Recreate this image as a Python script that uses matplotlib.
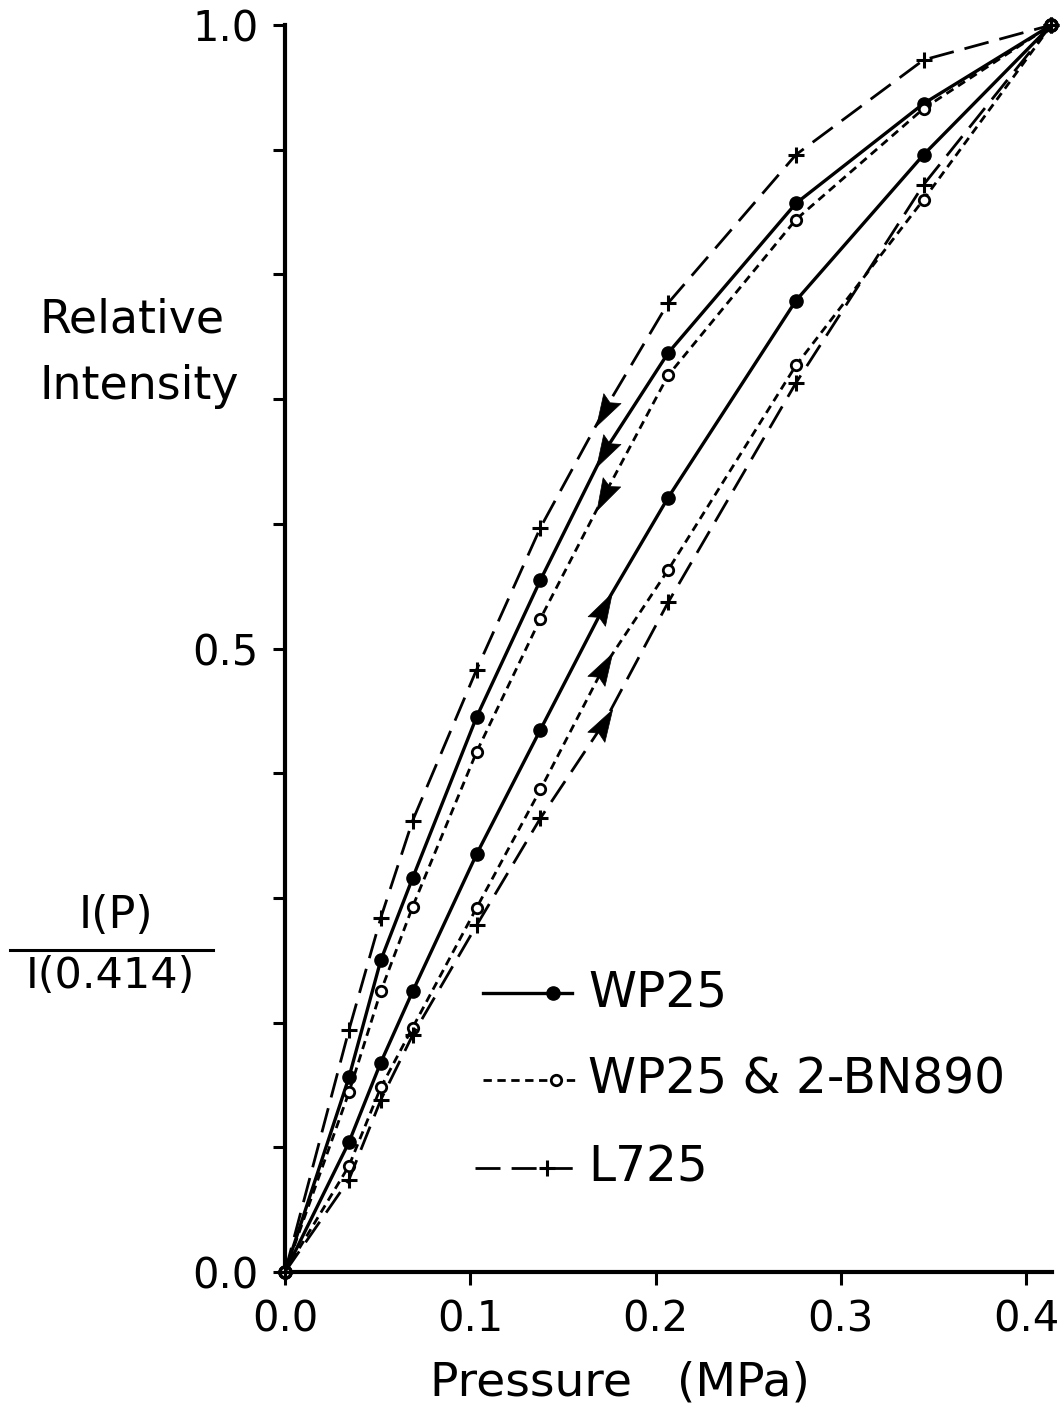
import math
import matplotlib
matplotlib.use("Agg")
import matplotlib.pyplot as plt
from matplotlib.path import Path
from matplotlib.markers import MarkerStyle
from matplotlib.transforms import Affine2D

plt.rcParams['font.family'] = ['DejaVu Sans']

# Pressure points (MPa)
pressure = [0.0, 0.0345, 0.0517, 0.0689, 0.1034, 0.1379, 0.172, 0.2068, 0.2758, 0.3447, 0.4137]

# WP25
wp25_down = [0.0, 0.156, 0.250, 0.316, 0.445, 0.555, 0.657, 0.737, 0.857, 0.937, 1.0]
wp25_up = [0.0, 0.104, 0.168, 0.225, 0.335, 0.435, 0.533, 0.621, 0.779, 0.896, 1.0]
# WP25 & 2-BN890
bn_down = [0.0, 0.144, 0.225, 0.293, 0.417, 0.524, 0.622, 0.719, 0.844, 0.933, 1.0]
bn_up = [0.0, 0.085, 0.148, 0.196, 0.292, 0.387, 0.485, 0.563, 0.727, 0.860, 1.0]
# L725
l725_down = [0.0, 0.194, 0.284, 0.362, 0.483, 0.597, 0.690, 0.777, 0.896, 0.972, 1.0]
l725_up = [0.0, 0.074, 0.138, 0.190, 0.278, 0.364, 0.440, 0.537, 0.713, 0.872, 1.0]

labels = ["WP25", "WP25 & 2-BN890", "L725"]
x_ticks = [0.0, 0.1, 0.2, 0.3, 0.4]
x_ticklabels = ["0.0", "0.1", "0.2", "0.3", "0.4"]
y_ticks = [0.0, 0.5, 1.0]
y_ticklabels = ["0.0", "0.5", "1.0"]
arrow_index = 6  # point drawn as direction arrow

W, H = 1064, 1410
fig = plt.figure(figsize=(W / 100, H / 100), dpi=100)
ax = fig.add_axes([285 / W, 1 - 1272 / H, (1052 - 285) / W, (1272 - 25) / H])
ax.set_xlim(0, 0.414)
ax.set_ylim(0, 1.0)

solid = dict(color='k', lw=2.4, linestyle='-', marker='o', ms=9.5, mfc='k', mec='k')
short = dict(color='k', lw=2.0, linestyle=(0, (3.0, 2.0)), marker='o', ms=7.5, mfc='white', mec='k', mew=2.0)
long_ = dict(color='k', lw=2.0, linestyle=(0, (9, 4)), marker='+', ms=12, mew=2.2, mec='k')

every = [i for i in range(len(pressure)) if i != arrow_index]

series = [(wp25_down, solid, True), (wp25_up, solid, False),
          (bn_down, short, True), (bn_up, short, False),
          (l725_down, long_, True), (l725_up, long_, False)]

for ys, st, _ in series:
    ax.plot(pressure, ys, clip_on=False, zorder=3, markevery=every, **st)

# direction arrows drawn at the arrow_index point, oriented along the curve
arrow_path = Path([(1.0, 0.0), (-1.0, 0.62), (-0.7, 0.0), (-1.0, -0.62), (1.0, 0.0)],
                  [Path.MOVETO, Path.LINETO, Path.LINETO, Path.LINETO, Path.CLOSEPOLY])
for ys, st, down in series:
    i = arrow_index
    p = ax.transData.transform([(pressure[i - 1], ys[i - 1]), (pressure[i + 1], ys[i + 1])])
    ang = math.degrees(math.atan2(p[1][1] - p[0][1], p[1][0] - p[0][0]))
    if down:
        ang += 180
    m = MarkerStyle(arrow_path, transform=Affine2D().rotate_deg(ang))
    ax.plot([pressure[i]], [ys[i]], linestyle='none', marker=m, ms=23,
            mfc='k', mec='k', mew=0.5, zorder=4, clip_on=False)

# spines / ticks
for s in ('top', 'right'):
    ax.spines[s].set_visible(False)
for s in ('left', 'bottom'):
    ax.spines[s].set_linewidth(3.0)
ax.set_xticks(x_ticks)
ax.set_xticklabels(x_ticklabels)
ax.set_yticks(y_ticks)
ax.set_yticklabels(y_ticklabels)
ax.set_yticks([0.1, 0.2, 0.3, 0.4, 0.6, 0.7, 0.8, 0.9], minor=True)
ax.tick_params(axis='both', which='both', direction='out', width=2.2, length=9,
               labelsize=30, pad=10)
ax.tick_params(axis='y', which='minor', length=9, width=2.2)

fig.text(620 / W, 1 - 1383 / H, "Pressure   (MPa)", fontsize=34, ha='center', va='center')

# y label block
fig.text(40 / W, 1 - 320 / H, "Relative", fontsize=33, ha='left', va='center')
fig.text(40 / W, 1 - 386 / H, "Intensity", fontsize=33, ha='left', va='center')
fig.text(116 / W, 1 - 915 / H, "I(P)", fontsize=32, ha='center', va='center')
fig.lines.append(plt.Line2D([10 / W, 213 / W], [1 - 950 / H, 1 - 950 / H],
                            transform=fig.transFigure, color='k', lw=2.2))
fig.text(110 / W, 1 - 976 / H, "I(0.414)", fontsize=31, ha='center', va='center')

# legend (drawn manually)
def fx(px):
    return px / W
def fy(py):
    return 1 - py / H

leg_rows = [
    (993, 483, 572, 553, solid),
    (1080, 483, 578, 556, short),
    (1168, 475, 578, 547, long_),
]
for (py, xa, xb, xm, st), lab in zip(leg_rows, labels):
    line_style = {k: v for k, v in st.items() if k in ('color', 'lw', 'linestyle')}
    fig.lines.append(plt.Line2D([fx(xa), fx(xb)], [fy(py), fy(py)],
                                transform=fig.transFigure, **line_style))
    mk = {k: v for k, v in st.items() if k in ('marker', 'ms', 'mfc', 'mec', 'mew')}
    fig.lines.append(plt.Line2D([fx(xm)], [fy(py)], transform=fig.transFigure,
                                linestyle='none', **mk))
    fig.text(fx(588), fy(py), lab, fontsize=35, ha='left', va='center')

fig.savefig("out.png", dpi=100, facecolor='white')
